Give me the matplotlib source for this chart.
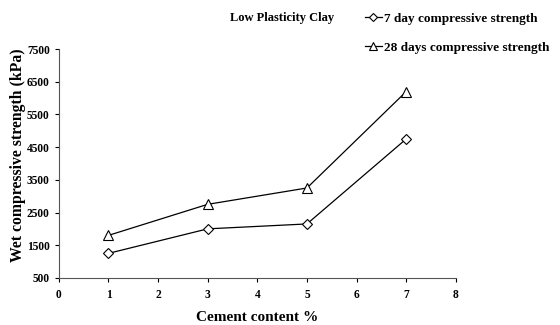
import matplotlib.pyplot as plt
from matplotlib.lines import Line2D

plt.rcParams['font.family'] = ['Liberation Serif', 'DejaVu Serif']
plt.rcParams['font.weight'] = 'bold'

cement = [1, 3, 5, 7]
day7 = [1250, 2000, 2150, 4750]
day28 = [1800, 2750, 3250, 6200]

fig = plt.figure(figsize=(5.6, 3.25), dpi=100)
ax = fig.add_axes([0.105, 0.145, 0.709, 0.704])

ax.plot(cement, day7, color='black', lw=0.9, marker='D', ms=5.5,
        mfc='white', mec='black', mew=0.8)
ax.plot(cement, day28, color='black', lw=0.9, marker='^', ms=7,
        mfc='white', mec='black', mew=0.8)

ax.set_xlim(0, 8)
ax.set_ylim(500, 7500)
ax.set_xticks(range(0, 9))
ax.set_yticks(range(500, 7501, 1000))
ax.tick_params(labelsize=8.3, length=3, width=0.8, direction='out')
ax.tick_params(axis='x', pad=5)
ax.tick_params(axis='y', pad=3.5)
for lab in ax.get_xticklabels() + ax.get_yticklabels():
    lab.set_fontweight('bold')
ax.spines['top'].set_visible(False)
ax.spines['right'].set_visible(False)
ax.spines['left'].set_color('#555555')
ax.spines['bottom'].set_color('#555555')

ax.set_xlabel('Cement content %', fontsize=11, fontweight='bold')
ax.xaxis.set_label_coords(0.5, -0.145)
ax.set_ylabel('Wet compressive strength (kPa)', fontsize=11.3, fontweight='bold')
ax.yaxis.set_label_coords(-0.083, 0.535)

fig.text(0.411, 0.945, 'Low Plasticity Clay', fontsize=9, fontweight='bold', va='center')
h1 = Line2D([], [], color='black', lw=0.9, marker='D', ms=4.5, mfc='white', mec='black', mew=0.8)
h2 = Line2D([], [], color='black', lw=0.9, marker='^', ms=5.5, mfc='white', mec='black', mew=0.8)
fig.legend([h1, h2], ['7 day compressive strength', '28 days compressive strength'],
           loc='upper left', bbox_to_anchor=(0.652, 0.962), frameon=False,
           borderpad=0, borderaxespad=0,
           prop={'size': 9.5, 'weight': 'bold'}, handlelength=1.25, handletextpad=0.2,
           labelspacing=1.3)

fig.savefig('out.png', dpi=100)
